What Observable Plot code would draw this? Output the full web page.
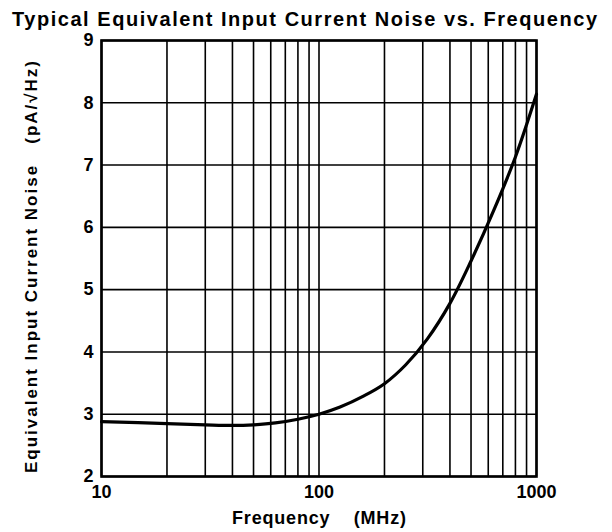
<!DOCTYPE html>
<html><head><meta charset="utf-8">
<script src="https://cdn.jsdelivr.net/npm/d3@7"></script>
<script src="https://cdn.jsdelivr.net/npm/@observablehq/plot@0.6"></script>
<style>
body{margin:0;background:#fff;}
#title{height:32px;line-height:38px;padding-left:12px;font-family:"Liberation Sans",Arial,sans-serif;font-weight:bold;font-size:20px;color:#000;white-space:nowrap;}
</style>
</head><body>
<div id="title"></div>
<div id="chart"></div>
<script>
const titleText = "Typical Equivalent Input Current Noise vs. Frequency";
const xLabelText = "Frequency\u00a0\u00a0\u00a0\u00a0(MHz)";
const yLabelText = "Equivalent Input Current Noise\u00a0\u00a0\u00a0(pA/\u221AHz)";
const freqMHz = [10, 20, 30, 40, 50, 63, 80, 100, 125, 160, 200, 250, 315, 400, 500, 630, 800, 1000];
const noise   = [2.88, 2.85, 2.83, 2.82, 2.83, 2.86, 2.92, 3.0, 3.115, 3.29, 3.49, 3.79, 4.21, 4.78, 5.46, 6.24, 7.13, 8.14];
const xTickValues = [10, 100, 1000];
const yTickValues = [2, 3, 4, 5, 6, 7, 8, 9];
const xGridValues = [10, 20, 30, 40, 50, 60, 70, 80, 90, 100, 200, 300, 400, 500, 600, 700, 800, 900, 1000];

const data = freqMHz.map((f, i) => ({f, v: noise[i]}));

// fit title to reference width
const titleEl = document.getElementById("title");
titleEl.textContent = titleText;
const ctx = document.createElement("canvas").getContext("2d");
ctx.font = 'bold 20px "Liberation Sans", Arial, sans-serif';
const w = ctx.measureText(titleText).width;
titleEl.style.letterSpacing = ((585 - w) / (titleText.length - 1)) + "px";

const fontFamily = '"Liberation Sans", Arial, Helvetica, sans-serif';
const chart = Plot.plot({
  width: 612,
  height: 500,
  marginLeft: 101,
  marginRight: 76,
  marginTop: 8,
  marginBottom: 56,
  style: {fontFamily, fontSize: "18px", fontWeight: "bold", color: "#000", background: "#fff", overflow: "visible"},
  x: {type: "log", domain: [10, 1000]},
  y: {domain: [2, 9]},
  marks: [
    Plot.ruleX(xGridValues, {stroke: "#000", strokeWidth: 1.6}),
    Plot.ruleY(yTickValues, {stroke: "#000", strokeWidth: 1.6}),
    Plot.line(data, {x: "f", y: "v", stroke: "#000", strokeWidth: 3.2, curve: "catmull-rom"}),
    Plot.frame({stroke: "#000", strokeWidth: 2.6}),
    Plot.axisX({ticks: xTickValues, tickFormat: d => String(d), tickSize: 0, tickPadding: 9, label: null, fontSize: 18}),
    Plot.axisY({ticks: yTickValues, tickFormat: d => String(d), tickSize: 0, tickPadding: 8, label: null, fontSize: 18}),
    Plot.text([xLabelText], {text: d => d, frameAnchor: "bottom", dy: 42, fontSize: 18, fontWeight: "bold", lineAnchor: "middle"}),
    Plot.text([yLabelText], {text: d => d, frameAnchor: "left", rotate: -90, dx: -70, dy: 8.5, fontSize: 17, fontWeight: "bold", textAnchor: "middle", lineAnchor: "middle"})
  ]
});
d3.select(chart).selectAll("text").each(function() {
  const t = this.textContent;
  if (t === xLabelText) d3.select(this).attr("textLength", 174).attr("lengthAdjust", "spacing");
  if (t === yLabelText) d3.select(this).attr("textLength", 412).attr("lengthAdjust", "spacing");
});
document.getElementById("chart").appendChild(chart);
</script>
</body></html>
